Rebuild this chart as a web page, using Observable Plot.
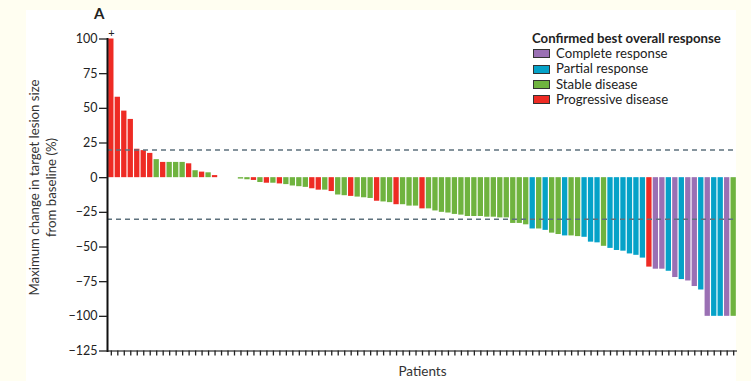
<!DOCTYPE html>
<html><head><meta charset="utf-8">
<script src="https://cdn.jsdelivr.net/npm/d3@7"></script>
<script src="https://cdn.jsdelivr.net/npm/@observablehq/plot@0.6"></script>
<style>
html,body{margin:0;padding:0;background:#fffef1;}
#wrap{position:relative;width:751px;height:381px;overflow:hidden;font-family:Lato,"Open Sans",sans-serif;}
#panel{position:absolute;left:26px;top:10px;width:710px;height:371px;background:#fff;}
#chart{position:absolute;left:0;top:0;}
#tag{position:absolute;left:94px;top:4px;font-weight:bold;font-size:15px;color:#222;}
#legend{position:absolute;left:532px;top:31px;font-size:13.2px;color:#222;line-height:15.2px;}
#legend .title{font-weight:bold;margin-bottom:0px;}
#legend .item{display:flex;align-items:center;}
#legend .sw{width:15px;height:7px;border:1.5px solid #333;margin-left:1px;margin-right:6px;}
</style></head>
<body>
<div id="wrap">
  <div id="panel"></div>
  <div id="chart"></div>
  <div id="tag">A</div>
  <div id="legend"></div>
</div>
<script>
// Response categories and colours
const categories = ["Complete response", "Partial response", "Stable disease", "Progressive disease"];
const codes = ["CR", "PR", "SD", "PD"];
const colors = ["#9a70b4", "#05a2c8", "#6fb33f", "#ee2b24"];

// Maximum change in target lesion size (%) per patient, sorted as in the waterfall
const changes = [
  100, 58, 48, 42, 20.5, 19.5, 17.5, 13, 11, 11,
  11, 11, 10, 5, 4, 3.5, 1.5, 0, 0, 0,
  -1, -1.5, -2, -3.5, -4, -4, -4.5, -5, -6, -6.5,
  -7, -8, -9, -9, -10, -12.5, -13, -13.5, -14, -14.5,
  -15, -17, -17.5, -18, -19.5, -19.5, -20.5, -20.5, -22.5, -22.5,
  -24, -25, -25.5, -26.5, -27, -28, -28, -28, -28.5, -28.5,
  -29, -29, -33, -33, -34, -37, -37, -38, -40, -41,
  -42, -42, -42.5, -43, -46.5, -47, -49.5, -51, -52.5, -53,
  -55, -56, -58, -64.5, -66, -66, -67.5, -72, -73.5, -74.5,
  -78.5, -81, -100, -100, -100, -100, -100
];
// Confirmed best overall response per patient
const responses = [
  "PD","PD","PD","PD","PD","PD","PD","SD","PD","SD",
  "SD","SD","PD","SD","PD","SD","PD","SD","SD","SD",
  "SD","SD","PD","SD","PD","SD","PD","SD","SD","SD",
  "SD","PD","PD","SD","PD","SD","SD","PD","SD","SD",
  "SD","PD","SD","SD","PD","SD","SD","SD","PD","SD",
  "SD","SD","SD","SD","SD","SD","SD","SD","SD","SD",
  "SD","SD","SD","SD","SD","PR","SD","PR","SD","SD",
  "PR","SD","SD","PR","PR","PR","SD","PR","PR","PR",
  "PR","PR","PR","PD","CR","CR","PR","CR","PR","CR",
  "CR","PR","CR","PR","PR","CR","SD"
];
// Patients whose change exceeds the axis (marked with "+")
const overLimit = [1];
const thresholds = [20, -30];
const yTicks = [100, 75, 50, 25, 0, -25, -50, -75, -100, -125];
const yLabel = "Maximum change in target lesion size\nfrom baseline (%)";
const xLabel = "Patients";
const legendTitle = "Confirmed best overall response";

const rows = changes.map((c, i) => ({
  patient: i + 1,
  change: c,
  response: categories[codes.indexOf(responses[i])]
}));
const marks = rows.filter(r => overLimit.includes(r.patient)).map(r => ({...r, label: "+"}));

const plot = Plot.plot({
  width: 751, height: 381,
  marginLeft: 107, marginRight: 14, marginTop: 38.5, marginBottom: 30.5,
  style: {background: "transparent", fontFamily: "Lato, 'Open Sans', sans-serif", fontSize: "12px", color: "#222"},
  x: {type: "band", domain: rows.map(r => r.patient), paddingInner: 0.18, paddingOuter: 0.18, axis: null},
  y: {domain: [-125, 100], axis: null},
  color: {domain: categories, range: colors},
  marks: [
    Plot.barY(rows, {x: "patient", y: "change", fill: "response"}),
    Plot.ruleY(thresholds, {stroke: "#5d717d", strokeWidth: 1.4, strokeDasharray: "5,4"}),
    Plot.ruleY([-125], {stroke: "#555", strokeWidth: 1.5}),
    Plot.frame({anchor: "left", stroke: "#111", strokeWidth: 2}),
    Plot.axisX({tickSize: 5, tickFormat: () => "", strokeWidth: 1.3, label: null}),
    Plot.axisY({ticks: yTicks, tickSize: 8, tickPadding: 2, label: null, fontSize: 12.5, strokeWidth: 1.3}),
    Plot.text(marks, {x: "patient", y: "change", text: "label", dy: -6, fontSize: 11}),
    Plot.text([yLabel], {frameAnchor: "left", textAnchor: "middle", dx: -65.5, dy: -7.5, rotate: -90, lineHeight: 1.3, fontSize: 13.2, fill: "#333"}),
    Plot.text([xLabel], {frameAnchor: "bottom", dy: 25, fontSize: 13.5, fill: "#333"})
  ]
});
document.getElementById("chart").appendChild(plot);

const lg = document.getElementById("legend");
const t = document.createElement("div");
t.className = "title"; t.textContent = legendTitle; lg.appendChild(t);
categories.forEach((c, i) => {
  const it = document.createElement("div"); it.className = "item";
  const sw = document.createElement("span"); sw.className = "sw"; sw.style.background = colors[i];
  const tx = document.createElement("span"); tx.textContent = c;
  it.appendChild(sw); it.appendChild(tx); lg.appendChild(it);
});
</script>
</body></html>
